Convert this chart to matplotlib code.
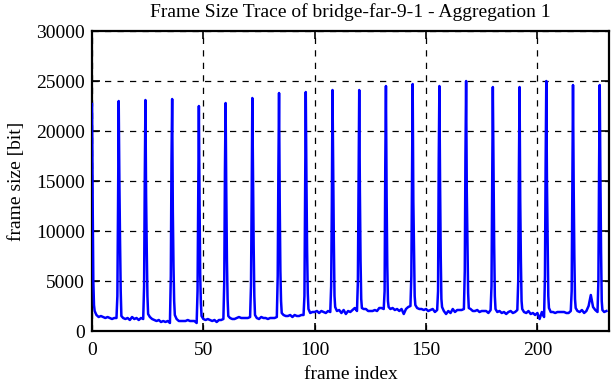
import matplotlib
matplotlib.use("Agg")
import matplotlib.pyplot as plt

plt.rcParams['font.family'] = ['Liberation Serif', 'DejaVu Serif']

title = "Frame Size Trace of bridge-far-9-1 - Aggregation 1"
xlabel = "frame index"
ylabel = "frame size [bit]"

# I-frame peaks
peak_frames = [0, 12, 24, 36, 48, 60, 72, 84, 96, 108, 120, 132, 144, 156,
               168, 180, 192, 204, 216, 228]
peak_top = [22700, 23000, 23100, 23200, 22500, 22800, 23300, 23800, 23900,
            24100, 24100, 24500, 24700, 24500, 25000, 24400, 24400, 25000,
            24600, 24600]
peak_rise = [None, [3500, 12500], [4500, 15000], [5500, 17000], [4000, 14000],
             [5000, 16000], [4500, 13000], [5500, 16000], [3500, 14000],
             [4500, 12500], [5000, 15000], [4000, 16500], [5500, 15500],
             [4000, 17000], [6000, 17500], [4500, 15000], [5000, 16000],
             [5500, 16500], [4000, 15000], [5000, 16000]]
peak_fall = [[13000, 5000, 2600], [15000, 9000, 4000], [13500, 8000, 3500],
             [12000, 6500, 3000], [13000, 5500, 2800], [14000, 7000, 3200],
             [15500, 8500, 3500], [13000, 6000, 3000], [15000, 8000, 3800],
             [16000, 9000, 3500], [14000, 7000, 3200], [13500, 6500, 3000],
             [13000, 8000, 3500], [15000, 7500, 3200], [14000, 9000, 3800],
             [16500, 8500, 3500], [13000, 7000, 3000], [15000, 9000, 3500],
             [14500, 7500, 3200], [15500, 8000, 3000]]

# frames between the peaks
between = [
    [2000, 1600, 1400, 1500, 1400, 1300, 1400, 1300, 1200, 1300, 1300],
    [1500, 1300, 1200, 1300, 1100, 1400, 1200, 1300, 1100, 1300, 1200],
    [1700, 1400, 1200, 1100, 1000, 1100, 900, 1000, 900, 1000, 800],
    [1600, 1200, 1000, 1000, 1000, 1000, 1100, 1000, 1000, 1000, 800],
    [1500, 1200, 1100, 1200, 1100, 1000, 1100, 900, 1100, 1100, 1200],
    [1500, 1300, 1200, 1200, 1300, 1400, 1300, 1300, 1300, 1300, 1400],
    [1600, 1300, 1200, 1400, 1300, 1300, 1200, 1300, 1300, 1300, 1400],
    [1800, 1600, 1500, 1500, 1600, 1400, 1600, 1500, 1500, 1600, 1600],
    [2200, 1800, 1900, 1900, 2000, 1800, 2000, 1900, 1800, 2000, 1900],
    [2400, 2000, 2100, 1800, 2100, 1700, 2000, 1900, 2100, 2300, 2000],
    [2300, 2200, 2200, 2000, 2000, 2000, 2100, 2000, 2300, 2300, 2200],
    [2400, 2200, 2300, 2100, 2200, 2000, 2200, 1700, 2200, 2400, 2500],
    [2600, 2300, 2200, 2200, 2100, 2200, 2000, 2100, 2200, 1900, 2100],
    [2400, 2000, 1700, 2000, 1800, 2200, 1900, 2100, 2100, 2100, 2200],
    [2300, 2200, 2000, 2000, 2100, 1900, 2000, 2000, 2000, 1800, 2100],
    [2200, 1900, 2000, 1800, 1900, 1700, 1900, 2000, 1800, 1900, 2100],
    [2200, 1900, 1800, 2000, 1700, 1800, 1600, 1800, 1200, 1900, 1400],
    [2300, 1900, 1900, 1800, 1900, 1900, 1900, 1900, 1800, 1800, 2000],
    [2300, 2000, 1900, 2100, 1800, 2000, 2500, 3600, 2400, 2100, 1900],
    [2100, 1900, 2000],
]

xs, ys = [], []
for k, top, rise, fall, rest in zip(peak_frames, peak_top, peak_rise,
                                    peak_fall, between):
    if rise is not None:
        xs += [k - 0.6, k - 0.3]
        ys += rise
    xs.append(k)
    ys.append(top)
    xs += [k + 0.3, k + 0.6, k + 0.9]
    ys += fall
    for i, v in enumerate(rest):
        xs.append(k + 1.2 + i if i == 0 else k + 1 + i)
        ys.append(v)

fig = plt.figure(figsize=(6.12, 3.82), dpi=100)
ax = fig.add_axes([0.1503, 0.1335, 0.9956 - 0.1503, 0.9188 - 0.1335])

ax.plot(xs, ys, color='#0000ff', lw=1.8, zorder=3)

ax.set_xlim(0, 232.3)
ax.set_ylim(0, 30000)
ax.set_xticks([0, 50, 100, 150, 200])
ax.set_yticks([0, 5000, 10000, 15000, 20000, 25000, 30000])
ax.grid(True, color='black', linestyle=(0, (5, 5)), linewidth=0.9)
ax.tick_params(direction='in', length=6, width=1.2, top=True, right=True,
               labelsize=14, pad=5, colors='black')
ax.tick_params(axis='x', pad=8)
for s in ax.spines.values():
    s.set_linewidth(1.6)

ax.set_title(title, fontsize=14, pad=10)
ax.set_xlabel(xlabel, fontsize=14, labelpad=5)
ax.set_ylabel(ylabel, fontsize=14, labelpad=8)

fig.savefig("out.png", dpi=100)
